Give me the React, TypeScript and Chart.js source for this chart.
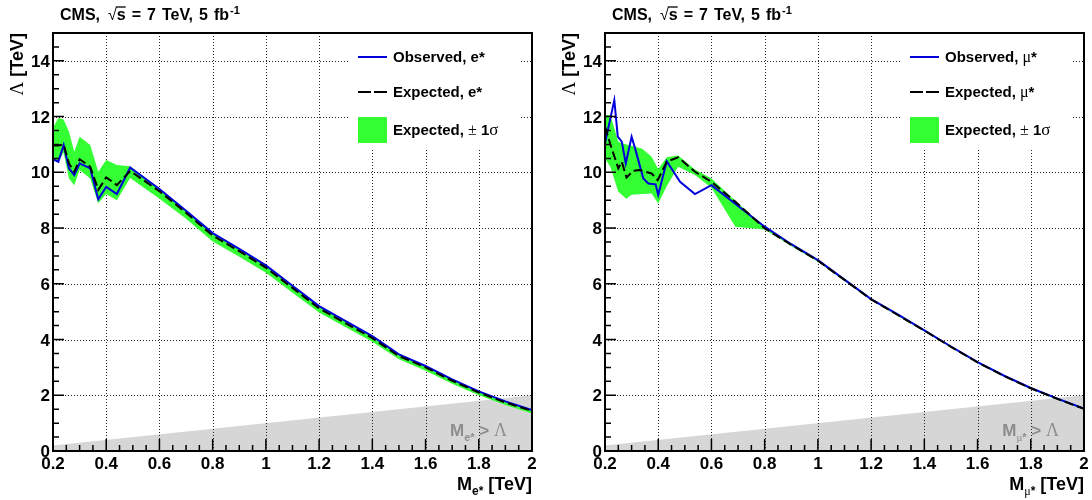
import React, { useEffect, useRef } from "react";
import { Chart, registerables } from "chart.js";
Chart.register(...registerables);

// ---------------- data ----------------
const xTickValues = [0.2, 0.4, 0.6, 0.8, 1.0, 1.2, 1.4, 1.6, 1.8, 2.0];
const xTickLabels = ["0.2", "0.4", "0.6", "0.8", "1", "1.2", "1.4", "1.6", "1.8", "2"];
const yTickValues = [0, 2, 4, 6, 8, 10, 12, 14];
const yTickLabels = ["0", "2", "4", "6", "8", "10", "12", "14"];

// excluded region M > Lambda (boundary Lambda = M)
const exclusionMass = [0.2, 2.0];
const exclusionLambda = [0.2, 2.0];

// left panel: excited electron
const leftMass = [0.2, 0.22, 0.24, 0.26, 0.28, 0.3, 0.34, 0.37, 0.4, 0.44, 0.49, 0.6, 0.7, 0.8, 0.9, 1.0, 1.1, 1.2, 1.3, 1.4, 1.5, 1.6, 1.7, 1.8, 1.9, 2.0];
const leftObserved = [10.47, 10.38, 10.98, 10.14, 9.9, 10.32, 10.14, 9.03, 9.48, 9.22, 10.17, 9.4, 8.62, 7.82, 7.25, 6.66, 5.93, 5.2, 4.66, 4.12, 3.47, 3.05, 2.57, 2.14, 1.78, 1.47];
const leftExpected = [10.96, 10.96, 11.0, 10.32, 10.02, 10.47, 10.2, 9.37, 9.82, 9.54, 10.05, 9.32, 8.55, 7.73, 7.17, 6.58, 5.85, 5.12, 4.58, 4.05, 3.41, 3.0, 2.52, 2.1, 1.74, 1.44];
const leftBandUp = [11.6, 11.95, 11.9, 11.46, 10.74, 11.28, 10.98, 10.02, 10.44, 10.26, 10.22, 9.4, 8.63, 7.82, 7.26, 6.67, 5.94, 5.21, 4.67, 4.13, 3.48, 3.06, 2.58, 2.15, 1.79, 1.48];
const leftBandLo = [10.4, 10.4, 10.7, 9.78, 9.54, 10.08, 9.78, 8.89, 9.22, 9.0, 9.8, 9.05, 8.33, 7.52, 6.97, 6.4, 5.68, 4.97, 4.44, 3.92, 3.29, 2.88, 2.41, 2.0, 1.65, 1.35];

// right panel: excited muon
const rightObsMass = [0.2, 0.235, 0.248, 0.263, 0.278, 0.3, 0.313, 0.344, 0.363, 0.39, 0.4, 0.432, 0.482, 0.538, 0.6, 0.8, 0.9, 1.0, 1.1, 1.2, 1.3, 1.4, 1.5, 1.6, 1.7, 1.8, 1.9, 2.0];
const rightObserved = [11.04, 12.59, 11.28, 11.1, 10.32, 11.28, 10.86, 9.78, 9.6, 9.57, 9.19, 10.4, 9.66, 9.22, 9.54, 8.05, 7.42, 6.85, 6.15, 5.45, 4.9, 4.33, 3.75, 3.19, 2.7, 2.26, 1.88, 1.52];
const rightExpMass = [0.2, 0.219, 0.25, 0.263, 0.281, 0.306, 0.331, 0.375, 0.398, 0.432, 0.475, 0.538, 0.6, 0.689, 0.8, 0.9, 1.0, 1.1, 1.2, 1.3, 1.4, 1.5, 1.6, 1.7, 1.8, 1.9, 2.0];
const rightExpected = [11.64, 11.04, 10.14, 10.38, 9.81, 10.06, 10.08, 9.96, 9.72, 10.38, 10.54, 10.02, 9.66, 8.95, 7.99, 7.4, 6.83, 6.14, 5.44, 4.88, 4.32, 3.74, 3.18, 2.69, 2.25, 1.87, 1.51];
const rightBandMass = [0.2, 0.22, 0.25, 0.28, 0.3, 0.34, 0.375, 0.4, 0.432, 0.475, 0.538, 0.6, 0.69, 0.8, 0.9, 1.0, 1.1, 1.2, 1.3, 1.4, 1.5, 1.6, 1.7, 1.8, 1.9, 2.0];
const rightBandUp = [12.06, 12.06, 11.1, 11.0, 10.95, 10.85, 10.56, 10.12, 10.54, 10.6, 10.1, 9.78, 8.98, 8.04, 7.44, 6.87, 6.17, 5.47, 4.91, 4.35, 3.77, 3.21, 2.72, 2.28, 1.9, 1.54];
const rightBandLo = [10.5, 10.2, 9.3, 9.05, 9.2, 9.22, 9.24, 8.88, 9.5, 10.2, 9.9, 9.45, 8.05, 7.95, 7.36, 6.79, 6.1, 5.41, 4.85, 4.29, 3.71, 3.15, 2.66, 2.22, 1.84, 1.48];

// ---------------- styles ----------------
const SANS = '"Liberation Sans", Arial, Helvetica, sans-serif';
const SERIF = '"Liberation Serif", "DejaVu Serif", serif';
const bold = (px: number) => `bold ${px}px ${SANS}`;
const greek = (px: number) => `${px}px ${SERIF}`;
const GREEN = "#33ff33";
const BLUE = "#0000dd";
const GREY_FILL = "#d6d6d6";
const GREY_TEXT = "#8c8c8c";

type Run = { t: string; f: string; dy?: number; over?: boolean; gap?: number };

function drawRuns(ctx: CanvasRenderingContext2D, runs: Run[], x: number, y: number, align: "left" | "right" | "center", color: string) {
  ctx.save();
  ctx.textBaseline = "alphabetic";
  ctx.textAlign = "left";
  let w = 0;
  for (const r of runs) {
    ctx.font = r.f;
    w += ctx.measureText(r.t).width + (r.gap || 0);
  }
  let cx = align === "left" ? x : align === "right" ? x - w : x - w / 2;
  ctx.fillStyle = color;
  ctx.strokeStyle = color;
  for (const r of runs) {
    ctx.font = r.f;
    const rw = ctx.measureText(r.t).width;
    ctx.fillText(r.t, cx, y + (r.dy || 0));
    if (r.over) {
      ctx.lineWidth = 1.3;
      ctx.beginPath();
      ctx.moveTo(cx - 1, y - 13);
      ctx.lineTo(cx + rw, y - 13);
      ctx.stroke();
    }
    cx += rw + (r.gap || 0);
  }
  ctx.restore();
}

function pts(xs: number[], ys: number[]) {
  return xs.map((x, i) => ({ x, y: ys[i] }));
}

const decorPlugin = {
  id: "decor",
  afterDatasetDraw(chart: any, args: any) {
    if (args.index !== 0) return;
    const { ctx, chartArea: a, scales } = chart;
    const xs = scales.x;
    const ys = scales.y;
    ctx.save();
    ctx.strokeStyle = "#222";
    ctx.lineWidth = 1;
    ctx.setLineDash([1, 2]);
    for (const v of xTickValues) {
      const px = Math.round(xs.getPixelForValue(v)) + 0.5;
      if (px <= a.left + 1 || px >= a.right - 1) continue;
      ctx.beginPath();
      ctx.moveTo(px, a.top);
      ctx.lineTo(px, a.bottom);
      ctx.stroke();
    }
    for (const v of yTickValues) {
      const py = Math.round(ys.getPixelForValue(v)) + 0.5;
      if (py >= a.bottom - 1 || py <= a.top + 1) continue;
      ctx.beginPath();
      ctx.moveTo(a.left, py);
      ctx.lineTo(a.right, py);
      ctx.stroke();
    }
    ctx.restore();
  },
  afterDraw(chart: any, _args: any, opts: any) {
    const { ctx, chartArea: a, scales } = chart;
    const xs = scales.x;
    const ys = scales.y;
    const mu = opts.lepton === "mu";
    ctx.save();

    // legend box (white, hides grid)
    ctx.fillStyle = "#fff";
    ctx.fillRect(a.left + 297, a.top + 3, 171, 112);
    const lx0 = a.left + 305;
    const lx1 = a.left + 334;
    const tx = a.left + 340;
    // observed
    ctx.strokeStyle = BLUE;
    ctx.lineWidth = 2;
    ctx.beginPath();
    ctx.moveTo(lx0, a.top + 24);
    ctx.lineTo(lx1, a.top + 24);
    ctx.stroke();
    // expected dashed
    ctx.strokeStyle = "#000";
    ctx.setLineDash([13, 3]);
    ctx.beginPath();
    ctx.moveTo(lx0, a.top + 59);
    ctx.lineTo(lx1 + 1, a.top + 59);
    ctx.stroke();
    ctx.setLineDash([]);
    // band
    ctx.fillStyle = GREEN;
    ctx.fillRect(lx0, a.top + 84, lx1 - lx0, 26);

    const lep: Run[] = mu ? [{ t: "\u03bc", f: greek(16) }, { t: "*", f: bold(15) }] : [{ t: "e*", f: bold(15) }];
    drawRuns(ctx, [{ t: "Observed, ", f: bold(15) }, ...lep], tx, a.top + 29, "left", "#000");
    drawRuns(ctx, [{ t: "Expected, ", f: bold(15) }, ...lep], tx, a.top + 64, "left", "#000");
    drawRuns(ctx, [{ t: "Expected, ", f: bold(15) }, { t: "\u00b1", f: greek(16) }, { t: " 1", f: bold(15) }, { t: "\u03c3", f: greek(17) }], tx, a.top + 102, "left", "#000");

    // excluded-region label
    const subLep: Run[] = mu ? [{ t: "\u03bc", f: greek(11), dy: 5 }, { t: "*", f: bold(11), dy: 5 }] : [{ t: "e*", f: bold(11), dy: 5 }];
    drawRuns(ctx, [{ t: "M", f: bold(17) }, ...subLep, { t: " > ", f: bold(17) }, { t: "\u039b", f: greek(18) }], a.right - 25, a.bottom - 15, "right", GREY_TEXT);

    // frame
    ctx.strokeStyle = "#000";
    ctx.lineWidth = 2;
    ctx.strokeRect(a.left, a.top, a.right - a.left, a.bottom - a.top);

    // ticks (inward)
    ctx.lineWidth = 1.5;
    ctx.beginPath();
    for (let i = 0; i < xTickValues.length; i++) {
      const px = xs.getPixelForValue(xTickValues[i]);
      ctx.moveTo(px, a.bottom);
      ctx.lineTo(px, a.bottom - 12);
      if (i < xTickValues.length - 1) {
        const step = (xTickValues[i + 1] - xTickValues[i]) / 4;
        for (let k = 1; k < 4; k++) {
          const mp = xs.getPixelForValue(xTickValues[i] + k * step);
          ctx.moveTo(mp, a.bottom);
          ctx.lineTo(mp, a.bottom - 6);
        }
      }
    }
    for (let i = 0; i < yTickValues.length; i++) {
      const py = ys.getPixelForValue(yTickValues[i]);
      ctx.moveTo(a.left, py);
      ctx.lineTo(a.left + 11, py);
      const next = i < yTickValues.length - 1 ? yTickValues[i + 1] : yTickValues[i] + 2;
      const step = (next - yTickValues[i]) / 4;
      for (let k = 1; k < 4; k++) {
        const v = yTickValues[i] + k * step;
        if (v > ys.max) break;
        const mp = ys.getPixelForValue(v);
        ctx.moveTo(a.left, mp);
        ctx.lineTo(a.left + 6, mp);
      }
    }
    ctx.stroke();

    // tick labels
    ctx.fillStyle = "#000";
    ctx.font = bold(17);
    ctx.textBaseline = "alphabetic";
    ctx.textAlign = "center";
    xTickValues.forEach((v, i) => {
      ctx.fillText(xTickLabels[i], xs.getPixelForValue(v), a.bottom + 18);
    });
    ctx.textAlign = "right";
    yTickValues.forEach((v, i) => {
      ctx.fillText(yTickLabels[i], a.left - 3, ys.getPixelForValue(v) + 6);
    });

    // axis titles
    const xSub: Run[] = mu ? [{ t: "\u03bc", f: greek(12), dy: 5 }, { t: "*", f: bold(12), dy: 5 }] : [{ t: "e*", f: bold(12), dy: 5 }];
    drawRuns(ctx, [{ t: "M", f: bold(18) }, ...xSub, { t: " [TeV]", f: bold(18) }], a.right, a.bottom + 39, "right", "#000");

    ctx.save();
    ctx.translate(a.left - 30, a.top);
    ctx.rotate(-Math.PI / 2);
    drawRuns(ctx, [{ t: "\u039b", f: greek(19) }, { t: " [TeV]", f: bold(18) }], 0, 0, "right", "#000");
    ctx.restore();

    // header
    drawRuns(
      ctx,
      [
        { t: "CMS,", f: bold(16), gap: 8 },
        { t: "\u221a", f: `16px ${SANS}` },
        { t: "s", f: bold(16), over: true, gap: 6 },
        { t: "=", f: bold(16), gap: 6 },
        { t: "7", f: bold(16), gap: 6 },
        { t: "TeV,", f: bold(16), gap: 6 },
        { t: "5", f: bold(16), gap: 6 },
        { t: "fb", f: bold(16), gap: 1 },
        { t: "-1", f: bold(11), dy: -6 },
      ],
      a.left + 7,
      20,
      "left",
      "#000"
    );
    ctx.restore();
  },
};

function buildConfig(lepton: "e" | "mu", padLeft: number, padRight: number): any {
  const isMu = lepton === "mu";
  const obs = isMu ? pts(rightObsMass, rightObserved) : pts(leftMass, leftObserved);
  const exp = isMu ? pts(rightExpMass, rightExpected) : pts(leftMass, leftExpected);
  const up = isMu ? pts(rightBandMass, rightBandUp) : pts(leftMass, leftBandUp);
  const lo = isMu ? pts(rightBandMass, rightBandLo) : pts(leftMass, leftBandLo);
  return {
    type: "line",
    data: {
      datasets: [
        {
          data: pts(exclusionMass, exclusionLambda),
          fill: "origin",
          backgroundColor: GREY_FILL,
          borderWidth: 0,
          pointRadius: 0,
          order: 10,
        },
        {
          data: up,
          fill: "+1",
          backgroundColor: GREEN,
          borderColor: GREEN,
          borderWidth: 0,
          pointRadius: 0,
          order: 8,
        },
        {
          data: lo,
          fill: false,
          borderColor: GREEN,
          borderWidth: 0,
          pointRadius: 0,
          order: 8,
        },
        {
          data: obs,
          fill: false,
          borderColor: BLUE,
          borderWidth: 2,
          pointRadius: 0,
          order: 2,
        },
        {
          data: exp,
          fill: false,
          borderColor: "#000",
          borderWidth: 2,
          borderDash: [9, 4],
          pointRadius: 0,
          order: 1,
        },
      ],
    },
    options: {
      animation: false,
      responsive: false,
      devicePixelRatio: 1,
      layout: { padding: { left: padLeft, right: padRight, top: 33, bottom: 49 } },
      elements: { line: { tension: 0 } },
      scales: {
        x: { type: "linear", min: 0.2, max: 2.0, display: false },
        y: { type: "linear", min: 0, max: 15, display: false },
      },
      plugins: {
        legend: { display: false },
        tooltip: { enabled: false },
        decor: { lepton },
      },
    },
    plugins: [decorPlugin],
  };
}

export default function App() {
  const leftRef = useRef<HTMLCanvasElement>(null);
  const rightRef = useRef<HTMLCanvasElement>(null);
  useEffect(() => {
    const c1 = new Chart(leftRef.current as HTMLCanvasElement, buildConfig("e", 53, 14));
    const c2 = new Chart(rightRef.current as HTMLCanvasElement, buildConfig("mu", 59, 8));
    return () => {
      c1.destroy();
      c2.destroy();
    };
  }, []);
  return (
    <div style={{ position: "absolute", left: 0, top: 0, width: 1092, height: 500, background: "#fff", overflow: "hidden" }}>
      <canvas ref={leftRef} width={546} height={500} style={{ position: "absolute", left: 0, top: 0, width: 546, height: 500 }} />
      <canvas ref={rightRef} width={546} height={500} style={{ position: "absolute", left: 546, top: 0, width: 546, height: 500 }} />
    </div>
  );
}
